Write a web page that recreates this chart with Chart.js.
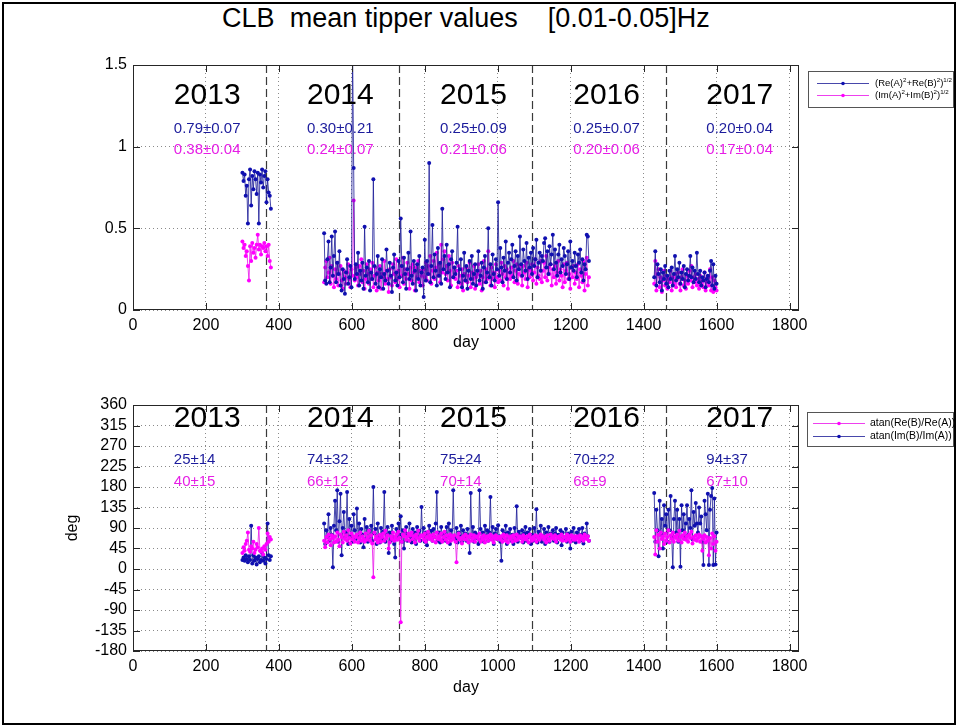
<!DOCTYPE html>
<html><head><meta charset="utf-8">
<script src="https://cdn.jsdelivr.net/npm/chart.js@4.4.0/dist/chart.umd.min.js"></script>
<style>
html,body{margin:0;padding:0;background:#fff;}
#wrap{position:relative;width:958px;height:727px;overflow:hidden;background:#fff;}
#frame{position:absolute;left:2px;top:2px;width:954px;height:723px;border:2px solid #000;box-sizing:border-box;}
#title{position:absolute;left:0;width:932px;top:3px;line-height:31px;text-align:center;font-size:27px;font-family:"Liberation Sans",Arial,sans-serif;white-space:pre;color:#000;}
.cv{position:absolute;left:0;}
</style></head><body>
<div id="wrap">
<div id="frame"></div>
<div id="title">CLB  mean tipper values    [0.01-0.05]Hz</div>
<canvas id="c1" class="cv" width="958" height="363" style="top:0px"></canvas>
<canvas id="c2" class="cv" width="958" height="364" style="top:363px"></canvas>
</div>
<script>
// ---------- data ----------
const days2013 = [300,303,306,309,312,315,318,321,324,327,330,333,336,339,342,345,348,351,354,357,360,363,366,369,372,375,378];
const days2014to16 = [524,527,530,533,536,539,542,545,548,551,
554,557,560,563,566,569,572,575,578,581,
584,587,590,593,596,599,602,605,608,611,
614,617,620,623,626,629,632,635,638,641,
644,647,650,653,656,659,662,665,668,671,
674,677,680,683,686,689,692,695,698,701,
704,707,710,713,716,719,722,725,728,731,
734,737,740,743,746,749,752,755,758,761,
764,767,770,773,776,779,782,785,788,791,
794,797,800,803,806,809,812,815,818,821,
824,827,830,833,836,839,842,845,848,851,
854,857,860,863,866,869,872,875,878,881,
884,887,890,893,896,899,902,905,908,911,
914,917,920,923,926,929,932,935,938,941,
944,947,950,953,956,959,962,965,968,971,
974,977,980,983,986,989,992,995,998,1001,
1004,1007,1010,1013,1016,1019,1022,1025,1028,1031,
1034,1037,1040,1043,1046,1049,1052,1055,1058,1061,
1064,1067,1070,1073,1076,1079,1082,1085,1088,1091,
1094,1097,1100,1103,1106,1109,1112,1115,1118,1121,
1124,1127,1130,1133,1136,1139,1142,1145,1148,1151,
1154,1157,1160,1163,1166,1169,1172,1175,1178,1181,
1184,1187,1190,1193,1196,1199,1202,1205,1208,1211,
1214,1217,1220,1223,1226,1229,1232,1235,1238,1241,
1244,1247,1250];
const days2017 = [1429,1432,1435,1438,1441,1444,1447,1450,1453,1456,
1459,1462,1465,1468,1471,1474,1477,1480,1483,1486,
1489,1492,1495,1498,1501,1504,1507,1510,1513,1516,
1519,1522,1525,1528,1531,1534,1537,1540,1543,1546,
1549,1552,1555,1558,1561,1564,1567,1570,1573,1576,
1579,1582,1585,1588,1591,1594,1597,1600];

// (Re(A)^2+Re(B)^2)^1/2 (blue)
const reAmp2013 = [0.84,0.79,0.83,0.70,0.76,0.53,0.80,0.86,0.64,0.82,
0.74,0.85,0.80,0.71,0.84,0.53,0.83,0.78,0.86,0.75,
0.82,0.85,0.66,0.80,0.72,0.70,0.62];
const reAmp2014to16 = [0.47,0.18,0.16,0.31,0.42,0.17,0.26,0.45,0.21,0.33,
0.48,0.17,0.29,0.22,0.36,0.15,0.12,0.25,0.19,0.10,
0.23,0.31,0.16,0.20,0.27,0.14,1.60,0.87,0.19,0.28,
0.22,0.35,0.15,0.24,0.18,0.29,0.13,0.51,0.21,0.26,
0.17,0.30,0.12,0.23,0.19,0.80,0.27,0.16,0.22,0.33,
0.14,0.25,0.20,0.31,0.13,0.22,0.18,0.37,0.24,0.16,
0.29,0.21,0.11,0.26,0.34,0.18,0.23,0.15,0.30,0.20,
0.56,0.27,0.17,0.32,0.22,0.13,0.25,0.35,0.19,0.48,
0.21,0.16,0.30,0.24,0.12,0.28,0.19,0.33,0.15,0.23,
0.26,0.08,0.43,0.18,0.30,0.22,0.90,0.17,0.27,0.52,
0.20,0.34,0.24,0.15,0.38,0.21,0.29,0.16,0.62,0.25,
0.33,0.19,0.40,0.23,0.28,0.14,0.31,0.36,0.20,0.26,
0.22,0.29,0.51,0.17,0.25,0.31,0.14,0.21,0.35,0.18,
0.27,0.13,0.24,0.30,0.19,0.33,0.16,0.22,0.28,0.15,
0.24,0.36,0.18,0.21,0.29,0.13,0.26,0.33,0.17,0.23,
0.50,0.20,0.28,0.15,0.34,0.22,0.18,0.31,0.25,0.66,
0.21,0.38,0.26,0.17,0.32,0.24,0.42,0.19,0.29,0.35,
0.23,0.31,0.40,0.20,0.27,0.36,0.18,0.33,0.25,0.45,
0.28,0.21,0.37,0.30,0.24,0.41,0.19,0.32,0.26,0.35,
0.22,0.38,0.27,0.31,0.43,0.20,0.29,0.35,0.24,0.33,
0.30,0.41,0.44,0.26,0.36,0.22,0.39,0.28,0.34,0.46,
0.25,0.37,0.29,0.21,0.34,0.40,0.23,0.31,0.27,0.38,
0.33,0.22,0.28,0.36,0.19,0.42,0.26,0.30,0.24,0.35,
0.27,0.20,0.34,0.29,0.37,0.23,0.31,0.18,0.28,0.25,
0.46,0.45,0.30];
const reAmp2017 = [0.20,0.36,0.15,0.28,0.22,0.17,0.25,0.12,0.23,0.19,
0.27,0.16,0.21,0.14,0.24,0.19,0.26,0.15,0.22,0.33,
0.18,0.25,0.20,0.29,0.16,0.23,0.19,0.27,0.14,0.22,
0.25,0.18,0.21,0.33,0.20,0.26,0.17,0.24,0.19,0.35,
0.22,0.17,0.24,0.15,0.20,0.18,0.23,0.14,0.19,0.21,
0.17,0.24,0.30,0.15,0.28,0.13,0.21,0.16];

// (Im(A)^2+Im(B)^2)^1/2 (magenta)
const imAmp2013 = [0.42,0.38,0.40,0.33,0.36,0.27,0.18,0.39,0.30,0.41,
0.35,0.38,0.32,0.40,0.46,0.37,0.40,0.34,0.39,0.38,
0.41,0.36,0.39,0.33,0.40,0.30,0.26];
const imAmp2014to16 = [0.17,0.26,0.30,0.20,0.23,0.32,0.16,0.27,0.21,0.14,
0.25,0.19,0.29,0.15,0.22,0.27,0.18,0.13,0.24,0.20,
0.16,0.23,0.28,0.19,0.14,0.25,0.21,0.67,0.18,0.26,
0.20,0.15,0.27,0.22,0.31,0.17,0.24,0.13,0.19,0.28,
0.22,0.16,0.25,0.19,0.29,0.14,0.21,0.26,0.12,0.23,
0.18,0.27,0.13,0.22,0.20,0.30,0.16,0.24,0.19,0.11,
0.25,0.20,0.15,0.28,0.22,0.17,0.31,0.19,0.24,0.14,
0.27,0.21,0.32,0.16,0.25,0.19,0.29,0.22,0.13,0.26,
0.18,0.28,0.23,0.12,0.26,0.20,0.30,0.17,0.24,0.21,
0.15,0.25,0.20,0.29,0.18,0.27,0.22,0.33,0.16,0.24,
0.30,0.19,0.26,0.35,0.21,0.28,0.17,0.40,0.23,0.31,
0.36,0.22,0.27,0.18,0.33,0.24,0.15,0.29,0.20,0.26,
0.19,0.24,0.14,0.27,0.21,0.16,0.25,0.12,0.22,0.18,
0.26,0.17,0.21,0.29,0.14,0.23,0.19,0.27,0.13,0.20,
0.22,0.28,0.16,0.24,0.12,0.20,0.30,0.17,0.25,0.19,
0.36,0.21,0.15,0.26,0.19,0.23,0.14,0.28,0.20,0.17,
0.24,0.18,0.29,0.22,0.15,0.27,0.20,0.25,0.13,0.23,
0.19,0.26,0.21,0.30,0.17,0.24,0.28,0.16,0.22,0.27,
0.21,0.15,0.27,0.23,0.19,0.29,0.14,0.25,0.20,0.24,
0.28,0.18,0.23,0.31,0.16,0.26,0.21,0.19,0.30,0.17,
0.24,0.29,0.20,0.33,0.18,0.26,0.22,0.28,0.15,0.25,
0.20,0.27,0.16,0.23,0.30,0.18,0.25,0.21,0.14,0.28,
0.17,0.24,0.29,0.19,0.22,0.13,0.26,0.20,0.27,0.16,
0.23,0.19,0.28,0.14,0.25,0.21,0.17,0.30,0.12,0.22,
0.32,0.15,0.20];
const imAmp2017 = [0.16,0.30,0.12,0.22,0.25,0.14,0.20,0.11,0.18,0.24,
0.15,0.21,0.13,0.19,0.17,0.24,0.12,0.20,0.16,0.22,
0.14,0.19,0.23,0.16,0.12,0.20,0.25,0.15,0.18,0.13,
0.21,0.16,0.24,0.18,0.27,0.14,0.20,0.17,0.22,0.15,
0.19,0.13,0.21,0.16,0.18,0.14,0.23,0.12,0.17,0.20,
0.15,0.25,0.12,0.20,0.11,0.18,0.14,0.12];

// atan(Re(B)/Re(A)) in deg (magenta)
const reAng2013 = [35,48,40,55,62,80,42,38,50,45,
60,35,42,55,48,90,40,38,45,32,
50,42,55,78,60,70,65];
const reAng2014to16 = [62,48,70,58,76,66,52,74,68,58,
72,60,80,64,50,76,70,58,82,66,
74,62,85,68,56,78,65,72,60,70,
76,58,68,80,62,72,66,60,78,64,
70,84,62,74,56,-18,80,65,72,58,
66,75,60,70,78,62,84,68,74,45,
58,72,66,80,62,70,76,64,82,68,
-117,60,76,72,85,64,70,78,62,74,
80,66,72,58,76,68,84,62,70,74,
72,64,78,60,70,82,66,74,68,62,
76,70,58,80,66,72,64,78,60,70,
82,64,74,58,68,76,62,72,66,74,
60,15,70,78,64,68,56,72,66,76,
64,72,58,70,76,62,68,74,60,70,
72,66,78,60,70,64,74,58,68,72,
62,70,76,64,72,58,68,74,66,70,
70,64,72,60,76,68,62,74,58,70,
66,72,60,74,68,62,76,64,70,72,
68,60,74,66,70,64,72,58,76,68,
62,70,66,74,60,72,68,64,76,70,
72,64,70,58,74,66,62,76,68,70,
66,74,60,70,68,72,64,76,62,70,
70,62,76,66,72,60,74,68,64,72,
64,72,68,60,74,66,70,62,76,68,
66,72,62];
const reAng2017 = [70,32,85,60,75,45,80,66,72,55,
78,62,70,85,58,74,66,80,60,72,
68,76,62,84,70,58,74,66,80,64,
72,60,76,68,82,56,70,64,74,62,
68,76,60,72,40,66,74,58,70,62,
30,68,45,78,55,72,40,60];

// atan(Im(B)/Im(A)) in deg (blue)
const imAng2013 = [20,25,18,30,22,15,28,20,95,12,
30,18,25,10,22,28,15,20,35,18,
25,12,22,100,30,20,28];
const imAng2014to16 = [100,55,85,70,120,62,90,75,4,95,
150,85,173,60,105,165,30,90,125,70,
80,169,55,110,72,95,60,120,85,66,
133,70,100,58,88,75,48,110,66,92,
60,85,70,95,62,180,78,88,55,100,
72,58,90,66,82,169,60,75,92,35,
80,62,95,70,55,25,88,68,100,75,
116,60,85,45,78,92,62,75,100,70,
58,88,66,80,55,92,70,84,62,136,
72,90,60,80,52,75,95,68,84,62,
88,70,100,169,62,80,58,92,75,66,
80,62,92,70,100,55,85,68,173,72,
65,90,58,80,72,95,60,85,70,78,
62,88,74,35,167,70,92,60,80,68,
75,55,173,88,66,80,60,95,72,85,
62,80,158,70,92,55,78,88,66,96,
72,60,18,85,68,78,95,55,80,70,
88,62,75,55,90,70,138,60,82,74,
68,85,58,78,92,62,80,70,88,55,
75,62,90,70,131,58,82,68,95,60,
72,88,55,80,66,92,60,78,70,85,
62,78,90,58,75,68,85,52,80,70,
66,88,60,78,72,45,82,62,90,70,
58,80,72,88,62,75,90,56,78,68,
100,72,62];
const imAng2017 = [167,60,130,85,28,150,75,110,45,140,
95,120,60,130,85,160,70,4,110,150,
80,130,60,110,5,140,85,120,70,100,
140,75,110,90,173,65,125,95,145,100,
80,135,100,115,60,9,150,120,85,165,
9,130,160,178,9,155,10,80];

const yearNames = ['2013','2014','2015','2016','2017'];
const yearStartDays = [365,730,1095,1461];
const yearLabelDays = [112,477,842,1207,1572];
const ampReStats = ['0.79\u00b10.07','0.30\u00b10.21','0.25\u00b10.09','0.25\u00b10.07','0.20\u00b10.04'];
const ampImStats = ['0.38\u00b10.04','0.24\u00b10.07','0.21\u00b10.06','0.20\u00b10.06','0.17\u00b10.04'];
const angImStats = ['25\u00b114','74\u00b132','75\u00b124','70\u00b122','94\u00b137'];
const angReStats = ['40\u00b115','66\u00b112','70\u00b114','68\u00b19','67\u00b110'];
const xTicks = [0,200,400,600,800,1000,1200,1400,1600,1800];
const ampTicks = [0,0.5,1,1.5];
const ampTickLabels = ['0','0.5','1','1.5'];
const angTicks = [-180,-135,-90,-45,0,45,90,135,180,225,270,315,360];

// ---------- helpers ----------
const BLUE = '#1010b0', BLUE_LINE = 'rgba(25,25,150,0.8)';
const MAG = '#ff00ff', MAG_LINE = 'rgba(235,30,235,0.85)';
const FONT = '"Liberation Sans", Arial, Helvetica, sans-serif';

function buildSeries(segDays, segVals){
  const out=[];
  segDays.forEach((d,i)=>{
    if(i>0) out.push({x:d[0]-1,y:null});
    d.forEach((day,j)=>out.push({x:day,y:segVals[i][j]}));
  });
  return out;
}
const segs = [days2013, days2014to16, days2017];

function ds(label, data, col, lineCol){
  return {label, data, borderColor: lineCol, backgroundColor: col, pointBackgroundColor: col,
    pointBorderColor: col, pointRadius: 2, pointBorderWidth: 0, pointHoverRadius: 2,
    borderWidth: 1, tension: 0, spanGaps: false};
}

function drawRich(ctx, str, x, y, size){
  const parts = str.split(/(\^\{[^}]*\})/);
  let cx = x;
  parts.forEach(p=>{
    if(!p) return;
    if(p.startsWith('^{')){
      const t = p.slice(2,-1);
      ctx.font = (size*0.65)+'px '+FONT;
      ctx.fillText(t, cx, y - size*0.38);
      cx += ctx.measureText(t).width;
    } else {
      ctx.font = size+'px '+FONT;
      ctx.fillText(p, cx, y);
      cx += ctx.measureText(p).width;
    }
  });
}

const decor = {
  id: 'decor',
  beforeDatasetsDraw(chart, args, o){
    const {ctx, chartArea: a, scales:{x}} = chart;
    ctx.save();
    ctx.beginPath(); ctx.rect(a.left,a.top,a.right-a.left,a.bottom-a.top); ctx.clip();
    ctx.strokeStyle = '#3a3a3a'; ctx.lineWidth = 1.2; ctx.setLineDash([8,4]);
    yearStartDays.forEach(d=>{
      const px = Math.round(x.getPixelForValue(d))+0.5;
      ctx.beginPath(); ctx.moveTo(px,a.top); ctx.lineTo(px,a.bottom); ctx.stroke();
    });
    ctx.restore();
  },
  afterDraw(chart, args, o){
    const {ctx, chartArea: a, scales:{x,y}} = chart;
    ctx.save();
    ctx.setLineDash([]);
    ctx.strokeStyle = '#262626'; ctx.lineWidth = 1;
    ctx.strokeRect(a.left+0.5, a.top+0.5, a.right-a.left-1, a.bottom-a.top-1);
    const tl = 7;
    ctx.beginPath();
    x.ticks.forEach(t=>{ const px = Math.round(x.getPixelForValue(t.value))+0.5;
      ctx.moveTo(px,a.bottom); ctx.lineTo(px,a.bottom-tl); ctx.moveTo(px,a.top); ctx.lineTo(px,a.top+tl); });
    y.ticks.forEach(t=>{ const py = Math.round(y.getPixelForValue(t.value))+0.5;
      ctx.moveTo(a.left,py); ctx.lineTo(a.left+tl,py); ctx.moveTo(a.right,py); ctx.lineTo(a.right-tl,py); });
    ctx.stroke();
    ctx.textAlign = 'left'; ctx.textBaseline = 'middle';
    yearNames.forEach((t,i)=>{
      const px = x.getPixelForValue(yearLabelDays[i]);
      ctx.fillStyle = '#000'; ctx.font = '30px '+FONT;
      ctx.fillText(t, px, y.getPixelForValue(o.yearY));
      ctx.font = '15px '+FONT;
      ctx.fillStyle = '#1c1c9c';
      ctx.fillText(o.blueStats[i], px, y.getPixelForValue(o.blueY));
      ctx.fillStyle = '#e61ee6';
      ctx.fillText(o.magStats[i], px, y.getPixelForValue(o.magY));
    });
    const L = o.legend;
    ctx.fillStyle = '#fff';
    ctx.fillRect(L.left, L.top, L.right-L.left, L.bottom-L.top);
    ctx.strokeStyle = '#555'; ctx.lineWidth = 1;
    ctx.strokeRect(L.left+0.5, L.top+0.5, L.right-L.left, L.bottom-L.top);
    chart.data.datasets.forEach((d,i)=>{
      const ry = L.rows[i];
      ctx.strokeStyle = d.borderColor; ctx.lineWidth = 1;
      ctx.beginPath(); ctx.moveTo(L.lineX1, ry+0.5); ctx.lineTo(L.lineX2, ry+0.5); ctx.stroke();
      ctx.fillStyle = d.pointBackgroundColor;
      ctx.beginPath(); ctx.arc((L.lineX1+L.lineX2)/2, ry+0.5, 1.8, 0, Math.PI*2); ctx.fill();
      ctx.fillStyle = '#000'; ctx.textBaseline = 'middle';
      drawRich(ctx, d.label, L.textX, ry+0.5, L.size);
    });
    ctx.restore();
  }
};

function makeChart(id, cfg){
  return new Chart(document.getElementById(id), {
    type: 'line',
    data: { datasets: cfg.datasets },
    options: {
      responsive: false, animation: false, events: [],
      layout: { padding: { left: 0, right: 159, top: cfg.top, bottom: cfg.bottom } },
      plugins: { legend: {display:false}, tooltip: {enabled:false}, decor: cfg.decor },
      scales: {
        x: { type:'linear', min:0, max:1826,
          afterBuildTicks: s => { s.ticks = xTicks.map(v=>({value:v})); },
          afterFit: s => { s.height = cfg.xh; },
          ticks: { font:{size:16, family:FONT}, color:'#000', padding:6, maxRotation:0, autoSkip:false,
            callback: v => String(v) },
          grid: { color:'#8a8a8a', lineWidth:1, drawTicks:false },
          border: { display:false, dash:[1,3] },
          title: { display:true, text:'day', font:{size:16, family:FONT}, color:'#000', padding:{top:0,bottom:2.4} }
        },
        y: { type:'linear', min: cfg.ymin, max: cfg.ymax,
          afterBuildTicks: s => { s.ticks = cfg.yTicks.map(v=>({value:v})); },
          afterFit: s => { s.width = 133; },
          ticks: { font:{size:16, family:FONT}, color:'#000', padding:6, autoSkip:false,
            callback: (v,i) => cfg.yLabels[i] },
          grid: { color:'#8a8a8a', lineWidth:1, drawTicks:false },
          border: { display:false, dash:[1,3] },
          title: { display: !!cfg.yTitle, text: cfg.yTitle || '', font:{size:16, family:FONT}, color:'#000', padding:{top:63.4,bottom:0} }
        }
      }
    },
    plugins: [decor]
  });
}

makeChart('c1', {
  top: 65, bottom: 8, xh: 45, ymin: 0, ymax: 1.5, yTicks: ampTicks, yLabels: ampTickLabels,
  datasets: [
    ds('(Re(A)^{2}+Re(B)^{2})^{1/2}', buildSeries(segs,[reAmp2013,reAmp2014to16,reAmp2017]), BLUE, BLUE_LINE),
    ds('(Im(A)^{2}+Im(B)^{2})^{1/2}', buildSeries(segs,[imAmp2013,imAmp2014to16,imAmp2017]), MAG, MAG_LINE)
  ],
  decor: { yearY: 1.31, blueY: 1.108, magY: 0.983, blueStats: ampReStats, magStats: ampImStats,
    legend: { left: 808, top: 71, right: 953, bottom: 107, rows: [83, 95], lineX1: 817, lineX2: 869, textX: 875, size: 9.5 } }
});

makeChart('c2', {
  top: 42, bottom: 27, xh: 49, ymin: -180, ymax: 360, yTicks: angTicks, yLabels: angTicks.map(String), yTitle: 'deg',
  datasets: [
    ds('atan(Re(B)/Re(A))', buildSeries(segs,[reAng2013,reAng2014to16,reAng2017]), MAG, MAG_LINE),
    ds('atan(Im(B)/Im(A))', buildSeries(segs,[imAng2013,imAng2014to16,imAng2017]), BLUE, BLUE_LINE)
  ],
  decor: { yearY: 329, blueY: 239, magY: 191, blueStats: angImStats, magStats: angReStats,
    legend: { left: 807, top: 49, right: 953, bottom: 83, rows: [60, 73], lineX1: 813, lineX2: 865, textX: 870, size: 10.5 } }
});
</script>
</body></html>
